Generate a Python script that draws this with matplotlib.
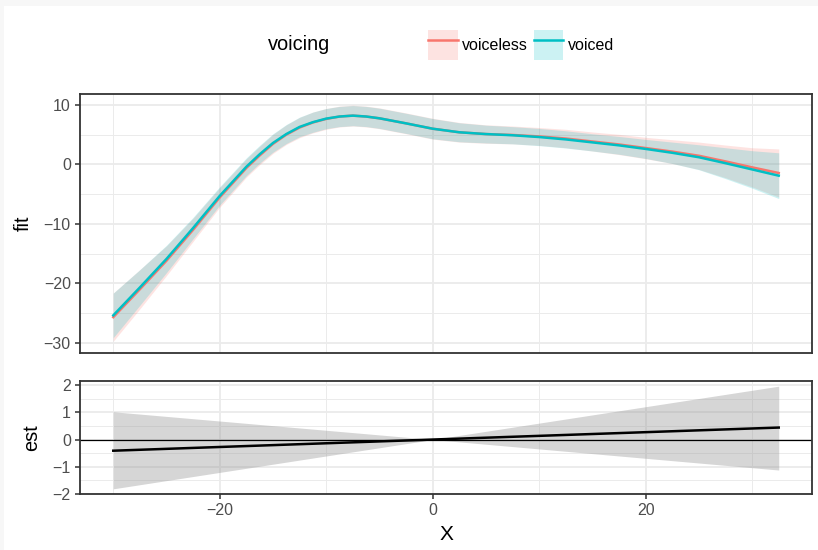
import matplotlib
matplotlib.use('Agg')
import matplotlib.pyplot as plt
from matplotlib.patches import Patch, Rectangle
from matplotlib.lines import Line2D
from matplotlib.ticker import MultipleLocator

plt.rcParams['font.family'] = ['Liberation Sans', 'DejaVu Sans']

# smooth fits
x = [-30, -27.5, -25, -22.5, -20, -17.5, -16.25, -15, -13.75, -12.5, -11.25, -10,
     -8.75, -7.5, -6.25, -5, -2.5, 0, 2.5, 5, 7.5, 10, 12.5, 15, 17.5, 20,
     22.5, 25, 27.5, 30, 32.5]
fit_voiced = [-25.4, -20.7, -15.9, -10.7, -5.3, -0.4, 1.7, 3.6, 5.1, 6.3, 7.1, 7.7,
              8.05, 8.2, 8.05, 7.75, 6.9, 6.0, 5.4, 5.1, 4.9, 4.6, 4.2, 3.7, 3.2, 2.6,
              1.95, 1.2, 0.2, -0.85, -1.9]
ci_voiced = [3.75, 3.0, 2.3, 1.8, 1.55, 1.5, 1.5, 1.55, 1.6, 1.65, 1.7, 1.7,
             1.7, 1.7, 1.7, 1.7, 1.7, 1.7, 1.6, 1.5, 1.45, 1.45, 1.45, 1.45, 1.5, 1.6,
             1.8, 2.1, 2.6, 3.15, 3.85]
fit_voiceless = [-25.7, -21.0, -16.2, -11.0, -5.55, -0.6, 1.5, 3.45, 5.0, 6.2, 7.05, 7.65,
                 8.05, 8.2, 8.05, 7.75, 6.9, 6.0, 5.4, 5.1, 4.95, 4.7, 4.35, 3.85, 3.35, 2.75,
                 2.15, 1.45, 0.5, -0.5, -1.45]
ci_voiceless = [4.05, 3.3, 2.5, 1.95, 1.65, 1.55, 1.55, 1.6, 1.65, 1.7, 1.75, 1.75,
                1.75, 1.75, 1.75, 1.75, 1.75, 1.75, 1.65, 1.55, 1.5, 1.5, 1.55, 1.6, 1.7, 1.8,
                2.0, 2.3, 2.75, 3.3, 4.05]

# difference estimate
est_x = [-30, 0, 32.5]
est = [-0.41, 0.0, 0.44]
est_lo = [-1.81, 0.0, -1.12]
est_hi = [1.02, 0.0, 1.96]

RED = '#F8766D'
CYAN = '#00BFC4'

fig = plt.figure(figsize=(8.18, 5.5), dpi=100, facecolor='#f7f7f7')
fig.patches.append(Rectangle((4 / 818, 0), 1, 1 - 6 / 550, transform=fig.transFigure,
                             facecolor='white', edgecolor='none', zorder=-10))

ax1 = fig.add_axes([80 / 818, 1 - 353 / 550, 732 / 818, 259 / 550])
ax2 = fig.add_axes([80 / 818, 1 - 494 / 550, 732 / 818, 113 / 550])


def style(ax):
    ax.set_facecolor('white')
    for s in ax.spines.values():
        s.set_color('#333333')
        s.set_linewidth(1.3)
    ax.grid(which='major', color='#ebebeb', lw=1.3)
    ax.grid(which='minor', color='#ebebeb', lw=0.7)
    ax.set_axisbelow(True)
    ax.tick_params(which='major', direction='out', length=3.6, width=1.1, color='#333333',
                   labelcolor='#4d4d4d', labelsize=11.5, pad=3)
    ax.tick_params(which='minor', length=0)
    ax.xaxis.set_major_locator(MultipleLocator(20))
    ax.xaxis.set_minor_locator(MultipleLocator(10))
    ax.set_xlim(-33.125, 35.625)


style(ax1)
style(ax2)

lo_vl = [f - c for f, c in zip(fit_voiceless, ci_voiceless)]
hi_vl = [f + c for f, c in zip(fit_voiceless, ci_voiceless)]
lo_vd = [f - c for f, c in zip(fit_voiced, ci_voiced)]
hi_vd = [f + c for f, c in zip(fit_voiced, ci_voiced)]
ax1.fill_between(x, lo_vl, hi_vl, color=RED, alpha=0.2, lw=0)
ax1.fill_between(x, lo_vd, hi_vd, color=CYAN, alpha=0.2, lw=0)
ax1.plot(x, fit_voiceless, color=RED, lw=1.8)
ax1.plot(x, fit_voiced, color=CYAN, lw=1.8)
ax1.set_ylim(-31.73, 11.84)
ax1.yaxis.set_major_locator(MultipleLocator(10))
ax1.yaxis.set_minor_locator(MultipleLocator(5))
ax1.tick_params(axis='x', which='both', bottom=False, labelbottom=False)
ax1.set_ylabel('fit', fontsize=14.4, labelpad=8)

ax2.fill_between(est_x, est_lo, est_hi, color='#999999', alpha=0.4, lw=0)
ax2.axhline(0, color='black', lw=0.9)
ax2.plot(est_x, est, color='black', lw=1.8)
ax2.set_ylim(-2.0, 2.15)
ax2.yaxis.set_major_locator(MultipleLocator(1))
ax2.yaxis.set_minor_locator(MultipleLocator(0.5))
ax2.set_ylabel('est', fontsize=14.4, labelpad=8)
ax2.set_xlabel('X', fontsize=15, labelpad=5)

# legend on top
fig.text(268 / 818, 1 - 45 / 550, 'voicing', fontsize=14.4, va='center', ha='left')
handles = [(Patch(facecolor=RED, alpha=0.2, edgecolor='none'), Line2D([], [], color=RED, lw=1.8)),
           (Patch(facecolor=CYAN, alpha=0.2, edgecolor='none'), Line2D([], [], color=CYAN, lw=1.8))]
fig.legend(handles, ['voiceless', 'voiced'], loc='center left',
           bbox_to_anchor=(428 / 818, 1 - 45 / 550), ncol=2, frameon=False,
           fontsize=11.5, handlelength=1.85, handleheight=2.6, handletextpad=0.3,
           columnspacing=0.35, borderpad=0, borderaxespad=0)

fig.savefig('out.png', dpi=100, facecolor=fig.get_facecolor())
